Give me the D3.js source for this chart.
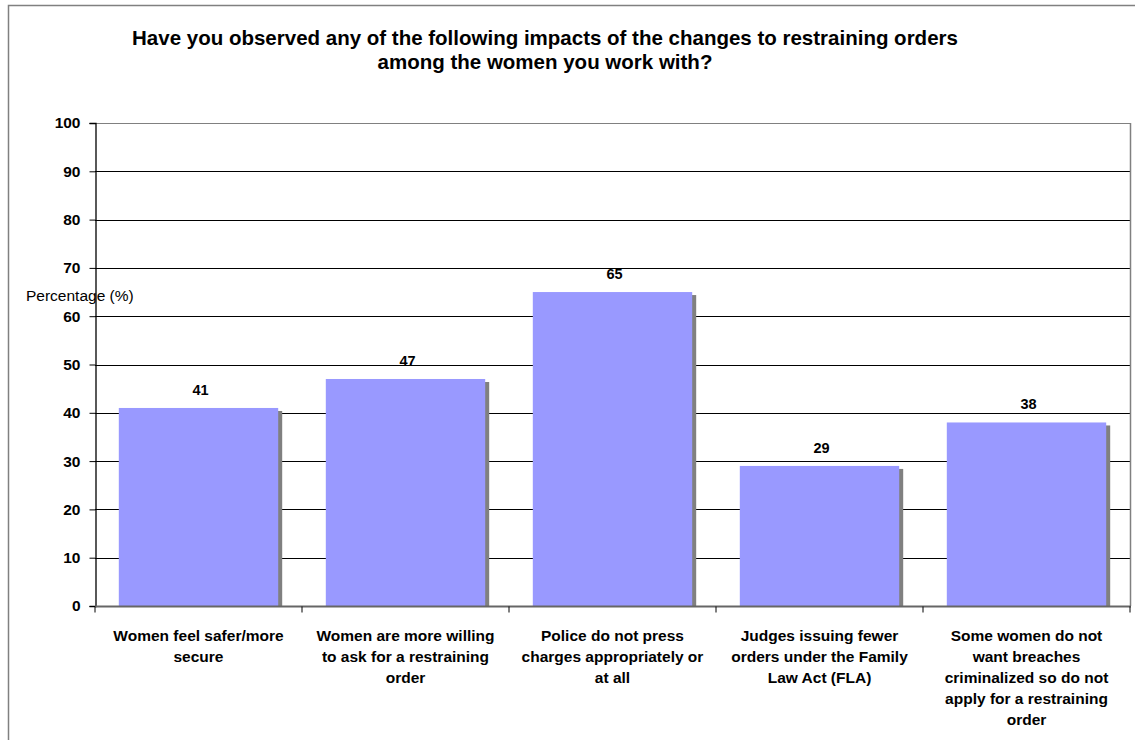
<!DOCTYPE html>
<html><head><meta charset="utf-8">
<script src="https://cdn.jsdelivr.net/npm/d3@7"></script>
<style>body{margin:0;background:#fff}svg{display:block;font-family:"Liberation Sans",Arial,sans-serif}</style>
</head><body>
<script>
const categories = [
  ["Women feel safer/more", "secure"],
  ["Women are more willing", "to ask for a restraining", "order"],
  ["Police do not press", "charges appropriately or", "at all"],
  ["Judges issuing fewer", "orders under the Family", "Law Act (FLA)"],
  ["Some women do not", "want breaches", "criminalized so do not", "apply for a restraining", "order"]
];
const values = [41, 47, 65, 29, 38];
const yTicks = [0, 10, 20, 30, 40, 50, 60, 70, 80, 90, 100];
const titleLines = ["Have you observed any of the following impacts of the changes to restraining orders", "among the women you work with?"];
const yLabel = "Percentage (%)";

(function () {
const W = 1135, H = 740;
const svg = d3.select("body").append("svg").attr("width", W).attr("height", H);

// outer border
svg.append("rect").attr("x", 8.5).attr("y", 5.5).attr("width", 1200).attr("height", 800)
  .attr("fill", "none").attr("stroke", "#808080").attr("stroke-width", 1.5);

const pL = 95, pR = 1130, pT = 123, pB = 606;
const ids = values.map((d, i) => i);
const x = d3.scaleBand().domain(ids).range([pL, pR]).paddingInner(0.23).paddingOuter(0.115);
const xb = d3.scaleBand().domain(ids).range([pL, pR]);
const y = d3.scaleLinear().domain([0, 100]).range([pB, pT]);

// gridlines
svg.append("g").selectAll("line").data(yTicks.filter(t => t > 0)).join("line")
  .attr("x1", pL).attr("x2", pR)
  .attr("y1", d => Math.round(y(d)) + 0.5).attr("y2", d => Math.round(y(d)) + 0.5)
  .attr("stroke", d => d === 100 ? "#808080" : "#000").attr("stroke-width", 1);
// right border of plot
svg.append("line").attr("x1", pR + 0.5).attr("x2", pR + 0.5).attr("y1", pT).attr("y2", pB)
  .attr("stroke", "#808080").attr("stroke-width", 1.5);

// shadows
svg.append("g").selectAll("rect").data(values).join("rect")
  .attr("x", (d, i) => x(i) + 4).attr("y", d => y(d) + 3)
  .attr("width", x.bandwidth()).attr("height", d => pB - y(d) - 3)
  .attr("fill", "#808080");
// bars
svg.append("g").selectAll("rect").data(values).join("rect")
  .attr("x", (d, i) => x(i)).attr("y", d => y(d))
  .attr("width", x.bandwidth()).attr("height", d => pB - y(d))
  .attr("fill", "#9999FF");

// value labels
svg.append("g").selectAll("text").data(values).join("text")
  .attr("x", (d, i) => x(i) + x.bandwidth() / 2 + 2).attr("y", d => y(d) - 13)
  .attr("text-anchor", "middle").attr("font-size", 14.5).attr("font-weight", "bold")
  .text(d => d);

// y axis
const yAxis = svg.append("g").attr("transform", `translate(${pL + 0.5},0)`)
  .call(d3.axisLeft(y).tickValues(yTicks).tickSize(6).tickPadding(9));
yAxis.select(".domain").attr("stroke", "#000").attr("stroke-width", 1.3);
yAxis.selectAll(".tick line").attr("stroke", "#000");
yAxis.selectAll(".tick text").attr("font-size", 15.5).attr("font-weight", "bold")
  .attr("font-family", "Liberation Sans, Arial, sans-serif").attr("fill", "#000");

// x axis
const xAxis = svg.append("g").attr("transform", `translate(0,${pB + 0.5})`);
xAxis.append("line").attr("x1", pL).attr("x2", pR + 1).attr("y1", 0).attr("y2", 0)
  .attr("stroke", "#666").attr("stroke-width", 2);
xAxis.selectAll("line.t").data(ids.concat([ids.length])).join("line").attr("class", "t")
  .attr("x1", d => d < ids.length ? xb(d) : pR).attr("x2", d => d < ids.length ? xb(d) : pR)
  .attr("y1", 0).attr("y2", 6).attr("stroke", "#000");

// x labels
const xl = svg.append("g");
categories.forEach((lines, i) => {
  const cx = xb(i) + xb.bandwidth() / 2;
  const t = xl.append("text").attr("text-anchor", "middle").attr("font-size", 15.5).attr("font-weight", "bold")
    .attr("x", cx).attr("y", 641);
  lines.forEach((l, j) => t.append("tspan").attr("x", cx).attr("dy", j === 0 ? 0 : 21).text(l));
});

// y label
svg.append("text").attr("x", 26).attr("y", 301).attr("font-size", 15.5).text(yLabel);

// title
const tt = svg.append("text").attr("text-anchor", "middle").attr("font-size", 20.5).attr("font-weight", "bold");
titleLines.forEach((l, j) => tt.append("tspan").attr("x", 545).attr("y", 44.5 + j * 24.5).text(l));
})();
</script>
</body></html>
